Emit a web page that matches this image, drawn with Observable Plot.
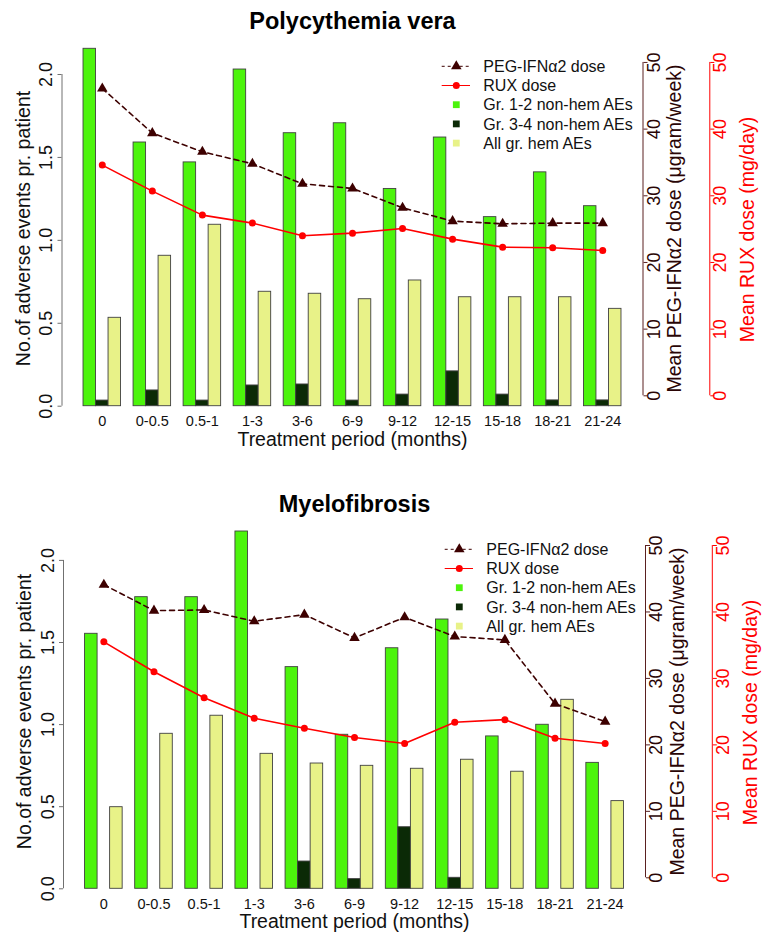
<!DOCTYPE html>
<html><head><meta charset="utf-8">
<script src="https://cdn.jsdelivr.net/npm/d3@7"></script>
<script src="https://cdn.jsdelivr.net/npm/@observablehq/plot@0.6"></script>
<style>body{margin:0;background:#fff;} svg{display:block;}</style>
</head><body><div id="chart"></div>
<script>
// ---------- data ----------
const periods = ["0","0-0.5","0.5-1","1-3","3-6","6-9","9-12","12-15","15-18","18-21","21-24"];
const seriesNames = ["Gr. 1-2 non-hem AEs","Gr. 3-4 non-hem AEs","All gr. hem AEs"];
const doseNames = ["PEG-IFNα2 dose","RUX dose"];
const leftTicks = [0, 0.5, 1, 1.5, 2];
const rightTicks = [0, 10, 20, 30, 40, 50];

// Polycythemia vera
const pvGr12 = [2.155,1.59,1.47,2.03,1.646,1.706,1.31,1.62,1.14,1.41,1.206];
const pvGr34 = [0.034,0.095,0.034,0.125,0.131,0.034,0.07,0.21,0.07,0.035,0.035];
const pvHem  = [0.533,0.907,1.094,0.69,0.678,0.645,0.758,0.657,0.657,0.657,0.587];
const pvPeg  = [46.1,39.4,36.6,34.8,31.8,31.1,28.2,26.2,25.8,25.9,25.9];
const pvRux  = [34.6,30.7,27.1,25.9,24.0,24.4,25.1,23.5,22.3,22.2,21.8];

// Myelofibrosis
const mfGr12 = [1.553,1.776,1.776,2.176,1.35,0.938,1.465,1.64,0.928,0.999,0.767];
const mfGr34 = [0,0,0,0,0.166,0.059,0.375,0.067,0,0,0];
const mfHem  = [0.497,0.944,1.054,0.822,0.763,0.749,0.731,0.786,0.713,1.151,0.534];
const mfPeg  = [44.1,40.2,40.3,38.6,39.6,36.1,39.2,36.3,35.8,26.2,23.5];
const mfRux  = [35.5,31.0,27.1,24.0,22.5,21.1,20.2,23.4,23.8,21.0,20.2];

const barColors = ["#4cf40c","#0b2a06","#e8f288"];
const pegColor = "#3d0000";
const ruxColor = "#ff0000";
const font = "'Liberation Sans', Arial, Helvetica, sans-serif";

function panel(cfg) {
  const {title, gr12, gr34, hem, peg, rux, height, zeroY, unit, rZero, rUnit, mLeft, mRight, shift} = cfg;
  const yMax = 2.2;
  const marginTop = zeroY - yMax * unit;
  const marginBottom = height - zeroY;
  const toLeft = d => (zeroY - rZero + d * rUnit) / unit;
  const xmid = i => 4 * i + 2.5;
  const bars = periods.flatMap((p, i) => [gr12, gr34, hem].map((arr, j) => ({
    period: p, series: seriesNames[j], x1: 4 * i + j + 1, x2: 4 * i + j + 2, value: arr[i]
  })));
  const pegPts = periods.map((p, i) => ({period: p, x: xmid(i), dose: peg[i], y: toLeft(peg[i])}));
  const ruxPts = periods.map((p, i) => ({period: p, x: xmid(i), dose: rux[i], y: toLeft(rux[i])}));
  const midY = (marginTop + zeroY) / 2;

  const svg = Plot.plot({
    width: 770, height,
    marginLeft: mLeft, marginRight: mRight, marginTop, marginBottom,
    x: {type: "linear", domain: [-0.72, 45.72], axis: null},
    y: {type: "linear", domain: [0, yMax], axis: null},
    color: {domain: seriesNames, range: barColors},
    style: {fontFamily: font, background: "white", color: "black", overflow: "visible"},
    marks: [
      Plot.rectY(bars, {x1: "x1", x2: "x2", y1: 0, y2: "value", fill: "series", stroke: "#404040", strokeWidth: 0.9}),
      Plot.line(pegPts, {x: "x", y: "y", stroke: pegColor, strokeWidth: 1.6, strokeDasharray: "5,4"}),
      Plot.dot(pegPts, {x: "x", y: "y", symbol: "triangle", r: 3.9, fill: pegColor, stroke: null}),
      Plot.line(ruxPts, {x: "x", y: "y", stroke: ruxColor, strokeWidth: 1.6}),
      Plot.dot(ruxPts, {x: "x", y: "y", r: 3.5, fill: ruxColor, stroke: null}),

      // left axis
      Plot.ruleX([-0.72], {y1: 0, y2: 2, stroke: "#707070"}),
      Plot.axisY({anchor: "left", ticks: leftTicks, tickSize: 4, tickFormat: () => "", stroke: "#707070"}),
      Plot.text(leftTicks, {y: d => d, text: d => d.toFixed(1), frameAnchor: "left", dx: -15.6, rotate: -90,
        fontSize: 18, textAnchor: "middle", lineAnchor: "middle", fill: "#111"}),
      Plot.text(["No.of adverse events pr. patient"], {frameAnchor: "left", dx: -38.7, dy: 228 - midY, rotate: -90,
        fontSize: 19.5, textAnchor: "middle", lineAnchor: "middle", fill: "#111"}),

      // PEG right axis
      Plot.ruleX([45.72], {y1: toLeft(0), y2: toLeft(50), stroke: "#5a2020"}),
      Plot.axisY({anchor: "right", ticks: rightTicks.map(toLeft), tickSize: 4, tickFormat: () => "", stroke: "#5a2020"}),
      Plot.text(rightTicks, {y: d => toLeft(d), text: d => String(d), frameAnchor: "right", dx: 11, rotate: -90,
        fontSize: 18, textAnchor: "middle", lineAnchor: "middle", fill: "#2a0505"}),
      Plot.text(["Mean PEG-IFNα2 dose (μgram/week)"], {frameAnchor: "right", dx: 31.8, dy: 228 - midY, rotate: -90,
        fontSize: 19.5, textAnchor: "middle", lineAnchor: "middle", fill: "#2a0505"}),

      // RUX right axis
      Plot.ruleX([45.72], {y1: toLeft(0), y2: toLeft(50), stroke: ruxColor, dx: 66.8}),
      Plot.axisY({anchor: "right", ticks: rightTicks.map(toLeft), tickSize: 4, tickFormat: () => "", stroke: ruxColor, dx: 66.8}),
      Plot.text(rightTicks, {y: d => toLeft(d), text: d => String(d), frameAnchor: "right", dx: 77.7, rotate: -90,
        fontSize: 18, textAnchor: "middle", lineAnchor: "middle", fill: ruxColor}),
      Plot.text(["Mean RUX dose (mg/day)"], {frameAnchor: "right", dx: 105.1, dy: 229 - midY, rotate: -90,
        fontSize: 19.5, textAnchor: "middle", lineAnchor: "middle", fill: ruxColor}),

      // x axis labels
      Plot.text(periods, {x: (d, i) => xmid(i), text: d => d, frameAnchor: "bottom", dy: 15.6,
        fontSize: 14.5, textAnchor: "middle", lineAnchor: "middle", fill: "#111"}),
      Plot.text(["Treatment period (months)"], {frameAnchor: "bottom", dy: 33.3,
        fontSize: 19.5, textAnchor: "middle", lineAnchor: "middle", fill: "#111"}),

      // title
      Plot.text([title], {frameAnchor: "top", dy: 21 - marginTop, fontSize: 23.5, fontWeight: "bold",
        textAnchor: "middle", lineAnchor: "middle", fill: "#000"})
    ]
  });

  // legend
  const g = d3.select(svg).append("g").attr("font-family", font).attr("font-size", 16).attr("text-anchor", "start");
  const lx0 = 441.7 + shift, lx1 = 470 + shift, lsx = 456.3 + shift, ltx = 483.3 + shift;
  const rows = [66.3, 85.5, 104.7, 123.9, 143.1];
  const labels = [...doseNames, ...seriesNames];
  g.append("line").attr("x1", lx0).attr("x2", lx1).attr("y1", rows[0]).attr("y2", rows[0])
    .attr("stroke", pegColor).attr("stroke-width", 1).attr("stroke-dasharray", "3,3");
  g.append("path").attr("d", d3.symbol(d3.symbolTriangle, 48)()).attr("transform", `translate(${lsx},${rows[0]})`).attr("fill", pegColor);
  g.append("line").attr("x1", lx0).attr("x2", lx1).attr("y1", rows[1]).attr("y2", rows[1])
    .attr("stroke", ruxColor).attr("stroke-width", 1);
  g.append("circle").attr("cx", lsx).attr("cy", rows[1]).attr("r", 3.5).attr("fill", ruxColor);
  barColors.forEach((c, j) => {
    g.append("rect").attr("x", lsx - 3.4).attr("y", rows[2 + j] - 3.4).attr("width", 6.8).attr("height", 6.8).attr("fill", c);
  });
  labels.forEach((t, k) => {
    g.append("text").attr("x", ltx).attr("y", rows[k]).attr("dy", "0.35em").attr("text-anchor", "start").attr("fill", "#111").text(t);
  });
  return svg;
}

const chart = document.getElementById("chart");
chart.appendChild(panel({
  title: "Polycythemia vera", gr12: pvGr12, gr34: pvGr34, hem: pvHem, peg: pvPeg, rux: pvRux,
  height: 483, zeroY: 405.7, unit: 165.85, rZero: 395.3, rUnit: 6.667, mLeft: 61.5, mRight: 127.5, shift: 0
}));
chart.appendChild(panel({
  title: "Myelofibrosis", gr12: mfGr12, gr34: mfGr34, hem: mfHem, peg: mfPeg, rux: mfRux,
  height: 458, zeroY: 405.3, unit: 164.2, rZero: 394.3, rUnit: 6.646, mLeft: 63, mRight: 125, shift: 3
}));
</script></body></html>
